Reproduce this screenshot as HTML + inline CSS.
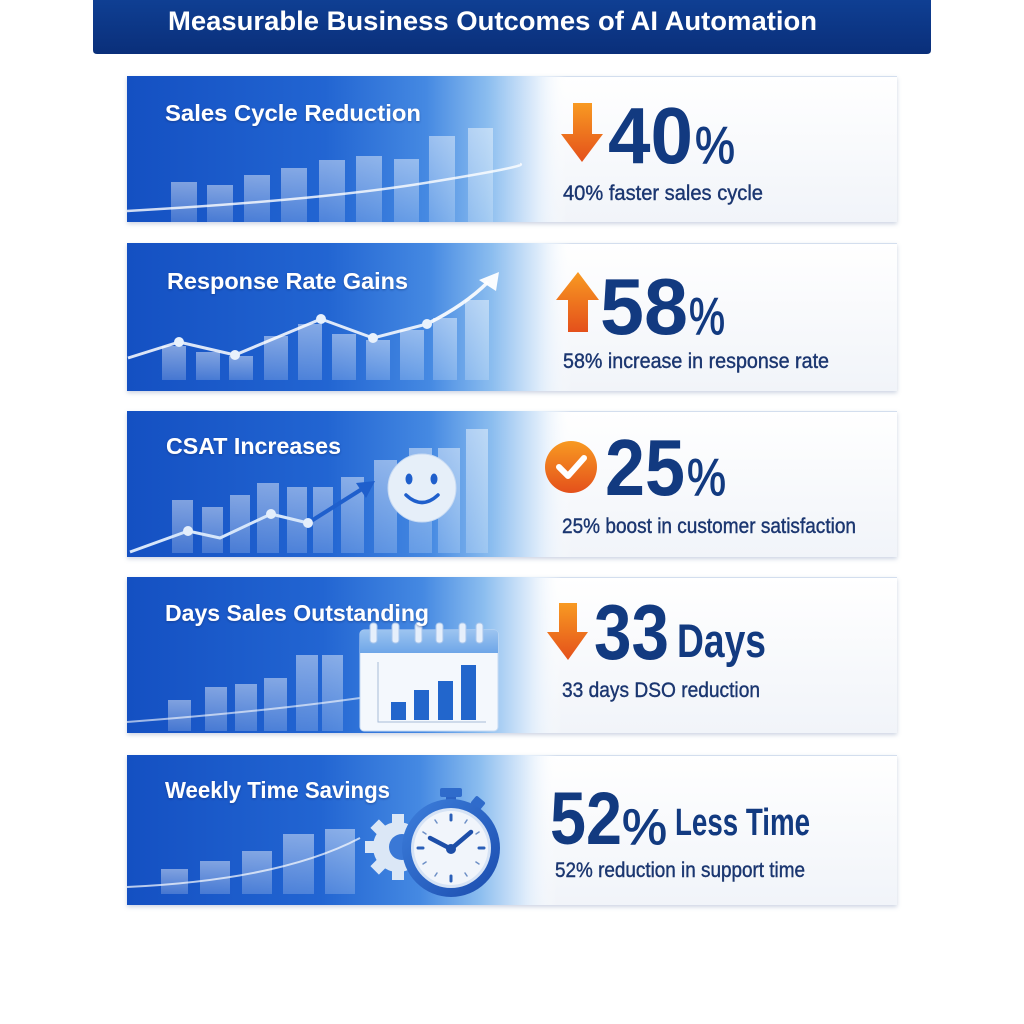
<!DOCTYPE html>
<html><head><meta charset="utf-8"><style>
html,body{margin:0;padding:0;background:#fff;}
svg{display:block;}
text{font-family:"Liberation Sans",sans-serif;}
</style></head><body>
<svg width="1024" height="1024" viewBox="0 0 1024 1024" xmlns="http://www.w3.org/2000/svg">
<defs>
 <linearGradient id="tb" x1="0" y1="0" x2="0" y2="1"><stop offset="0" stop-color="#0f3f93"/><stop offset="1" stop-color="#0a2f7a"/></linearGradient>
 <linearGradient id="cardbg" x1="0" y1="0" x2="0" y2="1"><stop offset="0" stop-color="#ffffff"/><stop offset="1" stop-color="#f1f4f9"/></linearGradient>
 <linearGradient id="blue" x1="0" y1="0" x2="1" y2="0">
   <stop offset="0" stop-color="#1450c2"/>
   <stop offset="0.45" stop-color="#2265d2"/>
   <stop offset="0.68" stop-color="#4589e2"/>
   <stop offset="0.82" stop-color="#8bbdef"/>
   <stop offset="0.93" stop-color="#e0edfb"/>
   <stop offset="1" stop-color="#ffffff" stop-opacity="0"/>
 </linearGradient>
 <linearGradient id="bar" x1="0" y1="0" x2="0" y2="1"><stop offset="0" stop-color="#ffffff" stop-opacity="0.45"/><stop offset="1" stop-color="#ffffff" stop-opacity="0.2"/></linearGradient>
 <linearGradient id="org" x1="0" y1="0" x2="0" y2="1"><stop offset="0" stop-color="#f89a22"/><stop offset="1" stop-color="#e4501b"/></linearGradient>
 <linearGradient id="clk" x1="0" y1="0" x2="1" y2="1"><stop offset="0" stop-color="#3d7fdc"/><stop offset="1" stop-color="#1b4cae"/></linearGradient>
 <linearGradient id="cal" x1="0" y1="0" x2="0" y2="1"><stop offset="0" stop-color="#9cc4f0"/><stop offset="1" stop-color="#6ea6e8"/></linearGradient>
 <filter id="ts" x="-5%" y="-20%" width="110%" height="150%"><feDropShadow dx="0" dy="1" stdDeviation="1" flood-color="#0a2a6a" flood-opacity="0.5"/></filter>
 <filter id="cs" x="-2%" y="-5%" width="104%" height="115%"><feDropShadow dx="0" dy="2" stdDeviation="2" flood-color="#6f86ad" flood-opacity="0.35"/></filter>
</defs>

<!-- Title bar -->
<path d="M93 0 H931 V50 Q931 54 927 54 H97 Q93 54 93 50 Z" fill="url(#tb)"/>
<text x="168" y="30" font-size="27" font-weight="bold" fill="#ffffff" textLength="649" lengthAdjust="spacingAndGlyphs">Measurable Business Outcomes of AI Automation</text>

<!-- ============ Card 1 ============ -->
<g>
 <rect x="127" y="76" width="770" height="146" fill="url(#cardbg)" filter="url(#cs)"/>
 <line x1="127" y1="76.5" x2="897" y2="76.5" stroke="#d3deee" stroke-width="1"/>
 <rect x="127" y="76" width="440" height="146" fill="url(#blue)"/>
 <rect x="171" y="182" width="26" height="40" fill="url(#bar)"/>
 <rect x="207" y="185" width="26" height="37" fill="url(#bar)"/>
 <rect x="244" y="175" width="26" height="47" fill="url(#bar)"/>
 <rect x="281" y="168" width="26" height="54" fill="url(#bar)"/>
 <rect x="319" y="160" width="26" height="62" fill="url(#bar)"/>
 <rect x="356" y="156" width="26" height="66" fill="url(#bar)"/>
 <rect x="394" y="159" width="25" height="63" fill="url(#bar)"/>
 <rect x="429" y="136" width="26" height="86" fill="url(#bar)"/>
 <rect x="468" y="128" width="25" height="94" fill="url(#bar)"/>
 <path d="M127 211 Q320 200 425 183 T520 164" fill="none" stroke="#ffffff" stroke-opacity="0.8" stroke-width="2.5"/>
 <text x="165" y="121" font-size="23" font-weight="bold" fill="#fff" filter="url(#ts)" textLength="256" lengthAdjust="spacingAndGlyphs">Sales Cycle Reduction</text>
 <path d="M573 103 H592 V134 H603 L582 162 L561 134 H573 Z" fill="url(#org)"/>
 <text x="608" y="163" font-size="80" font-weight="bold" fill="#123a80" textLength="85" lengthAdjust="spacingAndGlyphs">40</text>
 <text x="695" y="163" font-size="52" fill="#123a80" stroke="#123a80" stroke-width="1" textLength="40" lengthAdjust="spacingAndGlyphs">%</text>
 <text x="563" y="200" font-size="21" fill="#1b3670" stroke="#1b3670" stroke-width="0.4" textLength="200" lengthAdjust="spacingAndGlyphs">40% faster sales cycle</text>
</g>

<!-- ============ Card 2 ============ -->
<g>
 <rect x="127" y="243" width="770" height="148" fill="url(#cardbg)" filter="url(#cs)"/>
 <line x1="127" y1="243.5" x2="897" y2="243.5" stroke="#d3deee" stroke-width="1"/>
 <rect x="127" y="243" width="445" height="148" fill="url(#blue)"/>
 <g fill="url(#bar)">
  <rect x="162" y="346" width="24" height="34"/>
  <rect x="196" y="352" width="24" height="28"/>
  <rect x="229" y="356" width="24" height="24"/>
  <rect x="264" y="336" width="24" height="44"/>
  <rect x="298" y="324" width="24" height="56"/>
  <rect x="332" y="334" width="24" height="46"/>
  <rect x="366" y="340" width="24" height="40"/>
  <rect x="400" y="330" width="24" height="50"/>
  <rect x="433" y="318" width="24" height="62"/>
  <rect x="465" y="300" width="24" height="80"/>
 </g>
 <polyline points="128,358 179,342 235,355 321,319 373,338 427,324" fill="none" stroke="#ffffff" stroke-opacity="0.85" stroke-width="3" stroke-linejoin="round"/>
 <path d="M427 324 Q465 305 488 282" fill="none" stroke="#ffffff" stroke-opacity="0.9" stroke-width="3.5"/>
 <path d="M499 272 L496 291 L479 280 Z" fill="#ffffff" fill-opacity="0.95"/>
 <g fill="#e8f1fc"><circle cx="179" cy="342" r="5"/><circle cx="235" cy="355" r="5"/><circle cx="321" cy="319" r="5"/><circle cx="373" cy="338" r="5"/><circle cx="427" cy="324" r="5"/></g>
 <text x="167" y="289" font-size="23" font-weight="bold" fill="#fff" filter="url(#ts)" textLength="241" lengthAdjust="spacingAndGlyphs">Response Rate Gains</text>
 <path d="M568 332 H588 V300 H599 L578 272 L556 300 H568 Z" fill="url(#org)"/>
 <text x="600" y="334" font-size="80" font-weight="bold" fill="#123a80" textLength="88" lengthAdjust="spacingAndGlyphs">58</text>
 <text x="689" y="334" font-size="52" fill="#123a80" stroke="#123a80" stroke-width="1" textLength="36" lengthAdjust="spacingAndGlyphs">%</text>
 <text x="563" y="368" font-size="21" fill="#1b3670" stroke="#1b3670" stroke-width="0.4" textLength="266" lengthAdjust="spacingAndGlyphs">58% increase in response rate</text>
</g>

<!-- ============ Card 3 ============ -->
<g>
 <rect x="127" y="411" width="770" height="146" fill="url(#cardbg)" filter="url(#cs)"/>
 <line x1="127" y1="411.5" x2="897" y2="411.5" stroke="#d3deee" stroke-width="1"/>
 <rect x="127" y="411" width="445" height="146" fill="url(#blue)"/>
 <g fill="url(#bar)">
  <rect x="172" y="500" width="21" height="53"/>
  <rect x="202" y="507" width="21" height="46"/>
  <rect x="230" y="495" width="20" height="58"/>
  <rect x="257" y="483" width="22" height="70"/>
  <rect x="287" y="487" width="20" height="66"/>
  <rect x="313" y="487" width="20" height="66"/>
  <rect x="341" y="477" width="23" height="76"/>
  <rect x="374" y="460" width="23" height="93"/>
  <rect x="409" y="448" width="23" height="105"/>
  <rect x="438" y="448" width="22" height="105"/>
  <rect x="466" y="429" width="22" height="124"/>
 </g>
 <polyline points="130,552 188,531 220,538 271,514 308,523" fill="none" stroke="#d6e6fa" stroke-width="3" stroke-linejoin="round"/>
 <path d="M308 523 L362 489" fill="none" stroke="#1f5fcc" stroke-width="4"/>
 <path d="M375 481 L366 498 L356 483 Z" fill="#1f5fcc"/>
 <g fill="#e4eefb"><circle cx="188" cy="531" r="5"/><circle cx="271" cy="514" r="5"/><circle cx="308" cy="523" r="5"/></g>
 <circle cx="422" cy="488" r="34" fill="#e6eff9" stroke="#c7daf3" stroke-width="1"/>
 <ellipse cx="409" cy="479" rx="3.5" ry="5.5" fill="#1f5fcc"/>
 <ellipse cx="434" cy="479" rx="3.5" ry="5.5" fill="#1f5fcc"/>
 <path d="M406 495 Q422 510 438 495" fill="none" stroke="#1f5fcc" stroke-width="3.5" stroke-linecap="round"/>
 <text x="166" y="454" font-size="23" font-weight="bold" fill="#fff" filter="url(#ts)" textLength="175" lengthAdjust="spacingAndGlyphs">CSAT Increases</text>
 <circle cx="571" cy="467" r="26" fill="url(#org)"/>
 <path d="M559 467 L568 476 L584 458" fill="none" stroke="#ffffff" stroke-width="6" stroke-linecap="round" stroke-linejoin="round"/>
 <text x="605" y="495" font-size="80" font-weight="bold" fill="#123a80" textLength="80" lengthAdjust="spacingAndGlyphs">25</text>
 <text x="687" y="495" font-size="52" fill="#123a80" stroke="#123a80" stroke-width="1" textLength="39" lengthAdjust="spacingAndGlyphs">%</text>
 <text x="562" y="533" font-size="21" fill="#1b3670" stroke="#1b3670" stroke-width="0.4" textLength="294" lengthAdjust="spacingAndGlyphs">25% boost in customer satisfaction</text>
</g>

<!-- ============ Card 4 ============ -->
<g>
 <rect x="127" y="577" width="770" height="156" fill="url(#cardbg)" filter="url(#cs)"/>
 <line x1="127" y1="577.5" x2="897" y2="577.5" stroke="#d3deee" stroke-width="1"/>
 <rect x="127" y="577" width="435" height="156" fill="url(#blue)"/>
 <g fill="url(#bar)">
  <rect x="168" y="700" width="23" height="31"/>
  <rect x="205" y="687" width="22" height="44"/>
  <rect x="235" y="684" width="22" height="47"/>
  <rect x="264" y="678" width="23" height="53"/>
  <rect x="296" y="655" width="22" height="76"/>
  <rect x="322" y="655" width="21" height="76"/>
 </g>
 <path d="M127 722 Q260 712 360 698" fill="none" stroke="#ffffff" stroke-opacity="0.6" stroke-width="2"/>
 <rect x="360" y="630" width="138" height="101" rx="4" fill="#f4f8fd" stroke="#c6daf3" stroke-width="1"/>
 <path d="M360 653 V634 Q360 630 364 630 H494 Q498 630 498 634 V653 Z" fill="url(#cal)"/>
 <g fill="#e6effb" stroke="#a8c6ec" stroke-width="1">
  <rect x="370" y="623" width="7" height="20" rx="3"/>
  <rect x="392" y="623" width="7" height="20" rx="3"/>
  <rect x="415" y="623" width="7" height="20" rx="3"/>
  <rect x="436" y="623" width="7" height="20" rx="3"/>
  <rect x="459" y="623" width="7" height="20" rx="3"/>
  <rect x="476" y="623" width="7" height="20" rx="3"/>
 </g>
 <path d="M378 662 V722 H486" fill="none" stroke="#a9bdd8" stroke-width="1"/>
 <g fill="#2266cc">
  <rect x="391" y="702" width="15" height="18"/>
  <rect x="414" y="690" width="15" height="30"/>
  <rect x="438" y="681" width="15" height="39"/>
  <rect x="461" y="665" width="15" height="55"/>
 </g>
 <text x="165" y="621" font-size="23" font-weight="bold" fill="#fff" filter="url(#ts)" textLength="264" lengthAdjust="spacingAndGlyphs">Days Sales Outstanding</text>
 <path d="M559 603 H577 V632 H588 L568 660 L547 632 H559 Z" fill="url(#org)"/>
 <text x="594" y="659" font-size="78" font-weight="bold" fill="#123a80" textLength="75" lengthAdjust="spacingAndGlyphs">33</text>
 <text x="677" y="657" font-size="47" font-weight="bold" fill="#123a80" textLength="89" lengthAdjust="spacingAndGlyphs">Days</text>
 <text x="562" y="697" font-size="21" fill="#1b3670" stroke="#1b3670" stroke-width="0.4" textLength="198" lengthAdjust="spacingAndGlyphs">33 days DSO reduction</text>
</g>

<!-- ============ Card 5 ============ -->
<g>
 <rect x="127" y="755" width="770" height="150" fill="url(#cardbg)" filter="url(#cs)"/>
 <line x1="127" y1="755.5" x2="897" y2="755.5" stroke="#d3deee" stroke-width="1"/>
 <rect x="127" y="755" width="430" height="150" fill="url(#blue)"/>
 <g fill="url(#bar)">
  <rect x="161" y="869" width="27" height="25"/>
  <rect x="200" y="861" width="30" height="33"/>
  <rect x="242" y="851" width="30" height="43"/>
  <rect x="283" y="834" width="31" height="60"/>
  <rect x="325" y="829" width="30" height="65"/>
 </g>
 <path d="M127 887 Q280 880 360 838" fill="none" stroke="#ffffff" stroke-opacity="0.7" stroke-width="2"/>
 <!-- gear -->
 <g transform="translate(398 847)" fill="#dbe7f6">
  <circle r="25"/>
  <rect x="-6" y="-33" width="12" height="12" transform="rotate(0)"/>
  <rect x="-6" y="-33" width="12" height="12" transform="rotate(45)"/>
  <rect x="-6" y="-33" width="12" height="12" transform="rotate(90)"/>
  <rect x="-6" y="-33" width="12" height="12" transform="rotate(135)"/>
  <rect x="-6" y="-33" width="12" height="12" transform="rotate(180)"/>
  <rect x="-6" y="-33" width="12" height="12" transform="rotate(225)"/>
  <rect x="-6" y="-33" width="12" height="12" transform="rotate(270)"/>
  <rect x="-6" y="-33" width="12" height="12" transform="rotate(315)"/>
 </g>
 <circle cx="402" cy="847" r="13" fill="#3a78d6"/>
 <!-- stopwatch -->
 <rect x="446" y="794" width="10" height="8" fill="#2a62c4"/>
 <rect x="440" y="788" width="22" height="9" rx="2" fill="#2f6bcb"/>
 <rect x="472" y="798" width="12" height="10" rx="2" fill="#2f6bcb" transform="rotate(40 478 803)"/>
 <circle cx="451" cy="848" r="49" fill="url(#clk)"/>
 <circle cx="451" cy="848" r="40" fill="#d6e3f5"/>
 <circle cx="451" cy="848" r="37" fill="#f1f5fb"/>
 <g stroke="#2a5fb8" stroke-width="3" stroke-linecap="round">
  <line x1="451" y1="815" x2="451" y2="820"/>
  <line x1="451" y1="876" x2="451" y2="881"/>
  <line x1="418" y1="848" x2="423" y2="848"/>
  <line x1="479" y1="848" x2="484" y2="848"/>
 </g>
 <g stroke="#6d8fc6" stroke-width="1.5" stroke-linecap="round">
  <line x1="467" y1="820" x2="465" y2="823"/><line x1="479" y1="832" x2="476" y2="834"/>
  <line x1="479" y1="864" x2="476" y2="862"/><line x1="467" y1="876" x2="465" y2="873"/>
  <line x1="435" y1="876" x2="437" y2="873"/><line x1="423" y1="864" x2="426" y2="862"/>
  <line x1="423" y1="832" x2="426" y2="834"/><line x1="435" y1="820" x2="437" y2="823"/>
 </g>
 <path d="M430 838 L451 849 L471 832" fill="none" stroke="#1d4ea8" stroke-width="4.5" stroke-linecap="round" stroke-linejoin="round"/>
 <circle cx="451" cy="849" r="5" fill="#1d4ea8"/>
 <text x="165" y="798" font-size="23" font-weight="bold" fill="#fff" filter="url(#ts)" textLength="225" lengthAdjust="spacingAndGlyphs">Weekly Time Savings</text>
 <text x="550" y="844" font-size="74" font-weight="bold" fill="#123a80" textLength="72" lengthAdjust="spacingAndGlyphs">52</text>
 <text x="622" y="844" font-size="50" fill="#123a80" stroke="#123a80" stroke-width="1" textLength="45" lengthAdjust="spacingAndGlyphs">%</text>
 <text x="675" y="835" font-size="38" font-weight="bold" fill="#123a80" textLength="135" lengthAdjust="spacingAndGlyphs">Less Time</text>
 <text x="555" y="877" font-size="21" fill="#1b3670" stroke="#1b3670" stroke-width="0.4" textLength="250" lengthAdjust="spacingAndGlyphs">52% reduction in support time</text>
</g>
</svg>
</body></html>
